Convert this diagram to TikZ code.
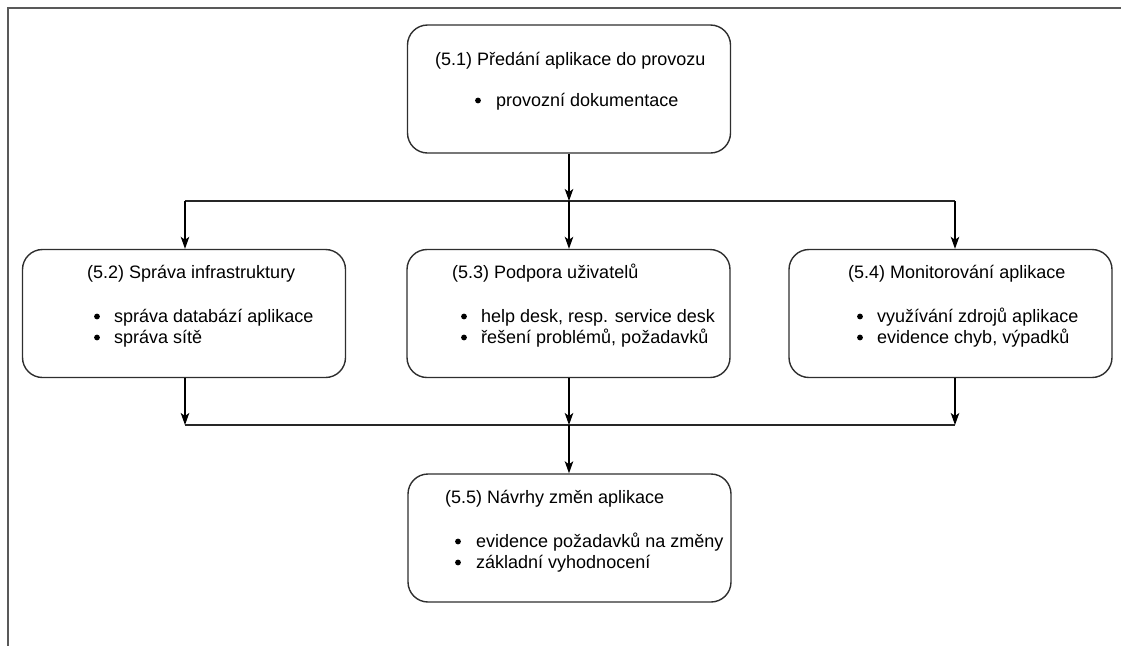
\documentclass[tikz,border=0pt]{standalone}
\usepackage{fontspec}
\setmainfont{Liberation Sans}
\usetikzlibrary{arrows.meta}
\begin{document}
\begin{tikzpicture}[x=1pt,y=-1pt,
  stage/.style={draw=black!82, line width=1.4pt, rounded corners=20pt,
    minimum width=323pt, minimum height=128pt, inner sep=0pt},
  link/.style={line width=1.3pt, draw=black,
    -{Stealth[length=12pt,width=8.5pt,inset=3pt]}},
  busline/.style={line width=1.6pt, draw=black!85},
  head/.style={anchor=base west, inner sep=0pt,
    font=\fontsize{18}{21}\selectfont},
  items/.style={anchor=base west, inner sep=0pt,
    font=\fontsize{18}{21}\selectfont},
  dot/.style={fill=black},
  frame/.style={line width=1.6pt, draw=black!65}]
\useasboundingbox (0,0) rectangle (1121,646);

% page frame
\draw[frame] (7,8) -- (1121,8);
\draw[frame] (8,8) -- (8,646);

% stage boxes
\node[stage] (p51) at (569,89) {};
\node[stage] (p52) at (184,313.5) {};
\node[stage] (p53) at (568.5,313.5) {};
\node[stage] (p54) at (950.5,313.5) {};
\node[stage] (p55) at (569.5,538) {};

% box headings
\node[head] (h51) at (435,65) {(5.1) Předání aplikace do provozu};
\node[head] (h52) at (87,278) {(5.2) Správa infrastruktury};
\node[head] (h53) at (452,278) {(5.3) Podpora uživatelů};
\node[head] (h54) at (848,278) {(5.4) Monitorování aplikace};
\node[head] (h55) at (445,503) {(5.5) Návrhy změn aplikace};

% bullet lists
\node[items] (l51) at (496,106) {provozní dokumentace};
\node[items] (l52) at (114,322) {\begin{tabular}[t]{@{}l@{}}
  správa databází aplikace\\ správa sítě\end{tabular}};
\node[items] (l53) at (481,322) {\begin{tabular}[t]{@{}l@{}}
  help desk, resp. service desk\\ řešení problémů, požadavků\end{tabular}};
\node[items] (l54) at (877,322) {\begin{tabular}[t]{@{}l@{}}
  využívání zdrojů aplikace\\ evidence chyb, výpadků\end{tabular}};
\node[items] (l55) at (476,547) {\begin{tabular}[t]{@{}l@{}}
  evidence požadavků na změny\\ základní vyhodnocení\end{tabular}};

% bullet marks
\foreach \x/\y in {478/100.5, 97/316.5, 97/337.5, 464/316.5, 464/337.5,
                   860/316.5, 860/337.5, 458/541.5, 458/562.5}
  \fill[dot] (\x,\y) circle (2.9pt);

% upper distribution bus
\coordinate (tl) at (185,201);
\coordinate (tc) at (569,201);
\coordinate (tr) at (955,201);
\draw[busline] (tl) -- (tr);
\draw[link] (p51.south) -- (tc);
\draw[link] (tl) -- (tl |- p52.north);
\draw[link] (tc) -- (tc |- p53.north);
\draw[link] (tr) -- (tr |- p54.north);

% lower collecting bus
\coordinate (bl) at (185,425);
\coordinate (bc) at (569,425);
\coordinate (br) at (955,425);
\draw[link] (p52.south -| bl) -- (bl);
\draw[link] (p53.south -| bc) -- (bc);
\draw[link] (p54.south -| br) -- (br);
\draw[busline] (bl) -- (br);
\draw[link] (bc) -- (bc |- p55.north);
\end{tikzpicture}
\end{document}
